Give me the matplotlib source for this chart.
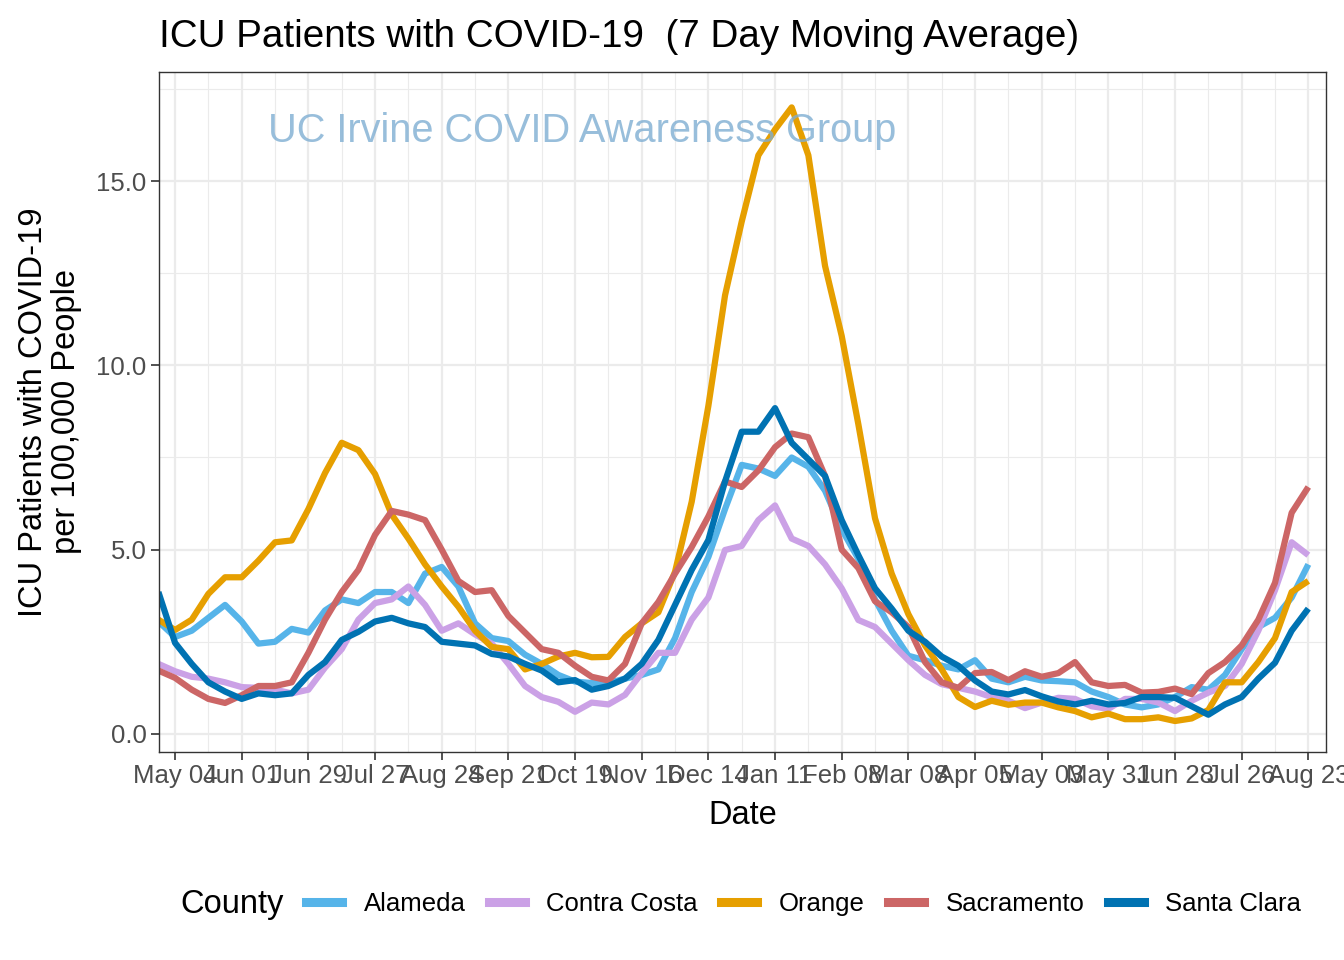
import numpy as np
import pandas as pd
import matplotlib
matplotlib.use('Agg')
import matplotlib.pyplot as plt
import matplotlib.dates as mdates
from matplotlib.lines import Line2D

plt.rcParams['font.family'] = ['Liberation Sans', 'DejaVu Sans']

# weekly samples of the 7 day moving average, ICU patients per 100,000
dates = pd.date_range('2020-04-27', periods=70, freq='7D')

counties = ['Alameda', 'Contra Costa', 'Orange', 'Sacramento', 'Santa Clara']
colors = ['#56B4E9', '#CBA1E6', '#E69F00', '#CC6666', '#0072B2']

alameda = [3.05, 2.63, 2.8, 3.15, 3.5, 3.05, 2.45, 2.5, 2.85, 2.75,
           3.35, 3.65, 3.55, 3.85, 3.85, 3.55, 4.35, 4.53, 4.0, 3.0,
           2.6, 2.52, 2.15, 1.9, 1.6, 1.42, 1.38, 1.38, 1.5, 1.6,
           1.75, 2.6, 3.85, 4.8, 6.1, 7.3, 7.2, 7.0, 7.5, 7.25,
           6.6, 5.55, 4.75, 3.65, 2.8, 2.12, 2.0, 1.85, 1.75, 2.0,
           1.5, 1.4, 1.55, 1.45, 1.43, 1.4, 1.15, 1.0, 0.8, 0.72,
           0.8, 1.0, 1.27, 1.2, 1.6, 2.3, 2.9, 3.15, 3.7, 4.6]

contra_costa = [1.9, 1.7, 1.55, 1.5, 1.4, 1.27, 1.25, 1.2, 1.1, 1.2,
                1.8, 2.3, 3.1, 3.55, 3.65, 4.0, 3.5, 2.8, 3.0, 2.7,
                2.45, 1.9, 1.3, 1.0, 0.87, 0.6, 0.85, 0.8, 1.06, 1.65,
                2.2, 2.2, 3.1, 3.7, 4.99, 5.1, 5.8, 6.2, 5.3, 5.1,
                4.6, 3.95, 3.09, 2.9, 2.45, 2.0, 1.6, 1.35, 1.25, 1.15,
                1.0, 0.9, 0.7, 0.85, 0.98, 0.95, 0.75, 0.68, 0.95, 0.95,
                0.85, 0.62, 0.9, 1.12, 1.3, 1.9, 2.8, 3.9, 5.2, 4.85]

orange = [3.1, 2.82, 3.1, 3.8, 4.25, 4.25, 4.7, 5.2, 5.25, 6.1,
          7.08, 7.9, 7.7, 7.05, 5.95, 5.3, 4.6, 4.0, 3.45, 2.8,
          2.36, 2.3, 1.75, 1.9, 2.1, 2.2, 2.08, 2.09, 2.63, 3.0,
          3.3, 4.4, 6.3, 8.9, 11.9, 13.9, 15.7, 16.4, 17.0, 15.7,
          12.7, 10.8, 8.4, 5.85, 4.35, 3.25, 2.4, 1.75, 1.0, 0.73,
          0.9, 0.79, 0.85, 0.85, 0.72, 0.62, 0.45, 0.55, 0.4, 0.4,
          0.45, 0.35, 0.42, 0.65, 1.4, 1.4, 1.95, 2.6, 3.85, 4.15]

sacramento = [1.72, 1.52, 1.2, 0.95, 0.84, 1.05, 1.3, 1.3, 1.4, 2.2,
              3.1, 3.85, 4.45, 5.4, 6.05, 5.95, 5.8, 5.0, 4.15, 3.85,
              3.9, 3.2, 2.75, 2.3, 2.2, 1.85, 1.55, 1.45, 1.9, 3.0,
              3.58, 4.35, 5.07, 5.9, 6.85, 6.7, 7.15, 7.78, 8.15, 8.05,
              7.0, 5.0, 4.5, 3.6, 3.3, 2.9, 1.95, 1.4, 1.25, 1.65,
              1.68, 1.46, 1.7, 1.55, 1.65, 1.95, 1.4, 1.3, 1.33, 1.12,
              1.14, 1.23, 1.08, 1.65, 1.95, 2.4, 3.1, 4.1, 6.0, 6.7]

santa_clara = [3.85, 2.47, 1.9, 1.4, 1.15, 0.95, 1.1, 1.05, 1.1, 1.6,
               1.95, 2.55, 2.77, 3.05, 3.15, 3.0, 2.9, 2.5, 2.45, 2.4,
               2.17, 2.1, 1.9, 1.72, 1.4, 1.46, 1.2, 1.3, 1.5, 1.9,
               2.55, 3.5, 4.45, 5.26, 6.85, 8.2, 8.2, 8.84, 7.9, 7.45,
               7.0, 5.8, 4.85, 3.95, 3.4, 2.8, 2.5, 2.1, 1.85, 1.45,
               1.15, 1.07, 1.19, 1.02, 0.88, 0.8, 0.9, 0.8, 0.84, 1.0,
               1.0, 0.98, 0.75, 0.52, 0.8, 1.0, 1.5, 1.93, 2.8, 3.4]

series = [alameda, contra_costa, orange, sacramento, santa_clara]

fig = plt.figure(figsize=(13.44, 9.6), dpi=100)
ax = fig.add_axes([0.1183, 0.2167, 0.8683, 0.7083])

for name, vals, col in zip(counties, series, colors):
    ax.plot(dates, vals, color=col, lw=4.5, solid_capstyle='butt', label=name)

major_days = pd.date_range('2020-05-04', '2021-08-23', freq='28D')
minor_days = pd.date_range('2020-04-20', '2021-09-06', freq='14D')
ax.set_xticks(major_days)
ax.set_xticks(minor_days, minor=True)
ax.xaxis.set_major_formatter(mdates.DateFormatter('%b %d'))
ax.set_yticks([0, 5, 10, 15])
ax.set_yticks([2.5, 7.5, 12.5, 17.5], minor=True)
ax.set_yticklabels(['0.0', '5.0', '10.0', '15.0'])

# limits after the ticks, so the minor ticks do not widen the view
ax.set_xlim(pd.Timestamp('2020-04-27 06:00'), pd.Timestamp('2021-08-30 10:00'))
ax.set_ylim(-0.49, 17.96)

ax.grid(True, which='major', color='#EBEBEB', lw=1.6)
ax.grid(True, which='minor', color='#EBEBEB', lw=0.8)
ax.set_axisbelow(True)
for s in ax.spines.values():
    s.set_color('#333333')
    s.set_linewidth(1.0)
ax.tick_params(which='major', length=6, width=1.2, color='#333333',
               labelsize=18.5, labelcolor='#4D4D4D', pad=3)
ax.tick_params(which='minor', length=0)

ax.set_xlabel('Date', fontsize=23.5, labelpad=8)
ax.set_ylabel('ICU Patients with COVID-19\nper 100,000 People', fontsize=23.5,
              labelpad=10, linespacing=1.1)
ax.set_title('ICU Patients with COVID-19  (7 Day Moving Average)', fontsize=27.8,
             loc='left', pad=18)

ax.text(pd.Timestamp('2020-10-22'), 16.35, 'UC Irvine COVID Awareness Group',
        fontsize=28.6, color='#7FAED2', alpha=0.8, ha='center', va='center')

handles = [Line2D([0], [0], color=c, lw=6.5) for c in colors]
fig.text(0.134, 0.058, 'County', fontsize=23.5, va='center', ha='left')
fig.legend(handles, counties, loc='center left', bbox_to_anchor=(0.2275, 0.058),
           ncol=5, frameon=False, fontsize=18.5, handlelength=1.4,
           handletextpad=0.85, columnspacing=0.9, borderaxespad=0, borderpad=0)

fig.savefig('out.png', dpi=100)
